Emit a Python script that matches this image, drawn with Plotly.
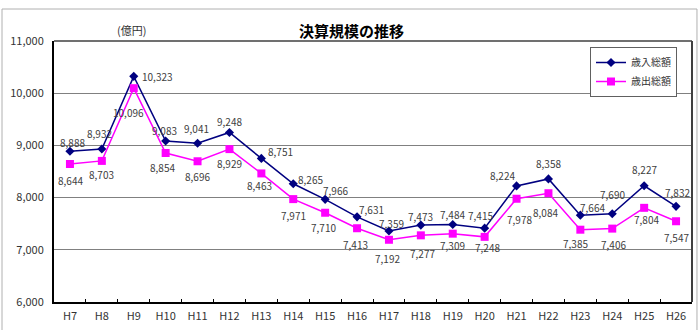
import plotly.graph_objects as go

categories = ["H7", "H8", "H9", "H10", "H11", "H12", "H13", "H14", "H15", "H16",
              "H17", "H18", "H19", "H20", "H21", "H22", "H23", "H24", "H25", "H26"]
revenue = [8888, 8932, 10323, 9083, 9041, 9248, 8751, 8265, 7966, 7631,
           7359, 7473, 7484, 7415, 8224, 8358, 7664, 7690, 8227, 7832]
expenditure = [8644, 8703, 10096, 8854, 8696, 8929, 8463, 7971, 7710, 7413,
               7192, 7277, 7309, 7248, 7978, 8084, 7385, 7406, 7804, 7547]
y_ticks = [6000, 7000, 8000, 9000, 10000, 11000]

# label offsets in pixels (dx right, dy up) relative to each point
rev_dx = [3, -2, 24, -1, -1, 0, 19, 17, 10, 14, 3, 0, 0, -4, -14, 0, 12, 0, 0, 1]
rev_dy = [9, 15, 0, 11, 15, 11, 7, 4, 9, 7, 8, 9, 10, 13, 10, 15, 8, 19, 16, 14]
exp_dx = [1, 0, -5, -3, 0, 0, -2, 0, -2, -2, -1, 2, 0, 3, 3, -3, -5, 1, 2, 0]
exp_dy = [-17, -14, -24, -14, -15, -14, -12, -16, -15, -16, -19, -18, -12, -11, -21, -19, -14, -16, -12, -16]

JP = "Noto Sans CJK JP, Liberation Sans, sans-serif"
txt_col = "#404040"

fig = go.Figure()
fig.add_trace(go.Scatter(
    x=categories, y=revenue, name="歳入総額", mode="lines+markers",
    line=dict(color="#000080", width=1.5),
    marker=dict(symbol="diamond", size=7, color="#000080"),
    cliponaxis=False,
))
fig.add_trace(go.Scatter(
    x=categories, y=expenditure, name="歳出総額", mode="lines+markers",
    line=dict(color="#FF00FF", width=1.5),
    marker=dict(symbol="square", size=8, color="#FF00FF"),
    cliponaxis=False,
))

annotations = []
for c, v, dx, dy in zip(categories, revenue, rev_dx, rev_dy):
    annotations.append(dict(x=c, y=v, xref="x", yref="y", text=f"{v:,}",
                            showarrow=False, xshift=dx, yshift=dy,
                            font=dict(size=10, color=txt_col, family=JP)))
for c, v, dx, dy in zip(categories, expenditure, exp_dx, exp_dy):
    annotations.append(dict(x=c, y=v, xref="x", yref="y", text=f"{v:,}",
                            showarrow=False, xshift=dx, yshift=dy,
                            font=dict(size=10, color=txt_col, family=JP)))
annotations += [
    dict(text="決算規模の推移", xref="paper", yref="paper",
         x=0.466, y=1.042, xanchor="center", yanchor="middle", showarrow=False,
         font=dict(size=15, color="#000000", family=JP, weight="bold")),
    dict(text="(億円)", xref="paper", yref="paper",
         x=0.122, y=1.042, xanchor="center", yanchor="middle", showarrow=False,
         font=dict(size=11, color="#333333", family=JP)),
]

fig.update_layout(
    width=700, height=330,
    margin=dict(l=54, r=8, t=41, b=28),
    paper_bgcolor="white", plot_bgcolor="white",
    font=dict(family=JP, size=10, color="#333333"),
    showlegend=True,
    legend=dict(x=0.9765, y=0.977, xanchor="right", yanchor="top",
                bgcolor="white", bordercolor="#606060", borderwidth=1,
                font=dict(size=10, color="#333333", family=JP),
                tracegroupgap=0),
    xaxis=dict(
        type="category", range=[-0.5, len(categories) - 0.5],
        showgrid=False, showline=True, linecolor="#000000", linewidth=2,
        ticks="inside", ticklen=3, tickcolor="#000000", tickson="boundaries",
        tickfont=dict(size=11, color="#333333"), ticklabelstandoff=3,
    ),
    yaxis=dict(
        range=[6000, 11000], tickvals=y_ticks, tickformat=",",
        showgrid=True, gridcolor="#808080", gridwidth=1,
        showline=True, linecolor="#000000", linewidth=2,
        tickfont=dict(size=11, color="#333333"), zeroline=False,
        ticks="", ticklabelstandoff=6,
    ),
    shapes=[
        dict(type="line", xref="paper", yref="paper", x0=0, x1=1, y0=1, y1=1,
             line=dict(color="#404040", width=1.5)),
        dict(type="line", xref="paper", yref="paper", x0=1, x1=1, y0=0, y1=1,
             line=dict(color="#404040", width=2)),
        dict(type="rect", xref="paper", yref="paper",
             x0=-0.0815, x1=1.0078, y0=-0.13, y1=1.1226,
             line=dict(color="#b0b0b0", width=1), layer="below"),
    ],
    annotations=annotations,
)

fig.write_html("out.html")
